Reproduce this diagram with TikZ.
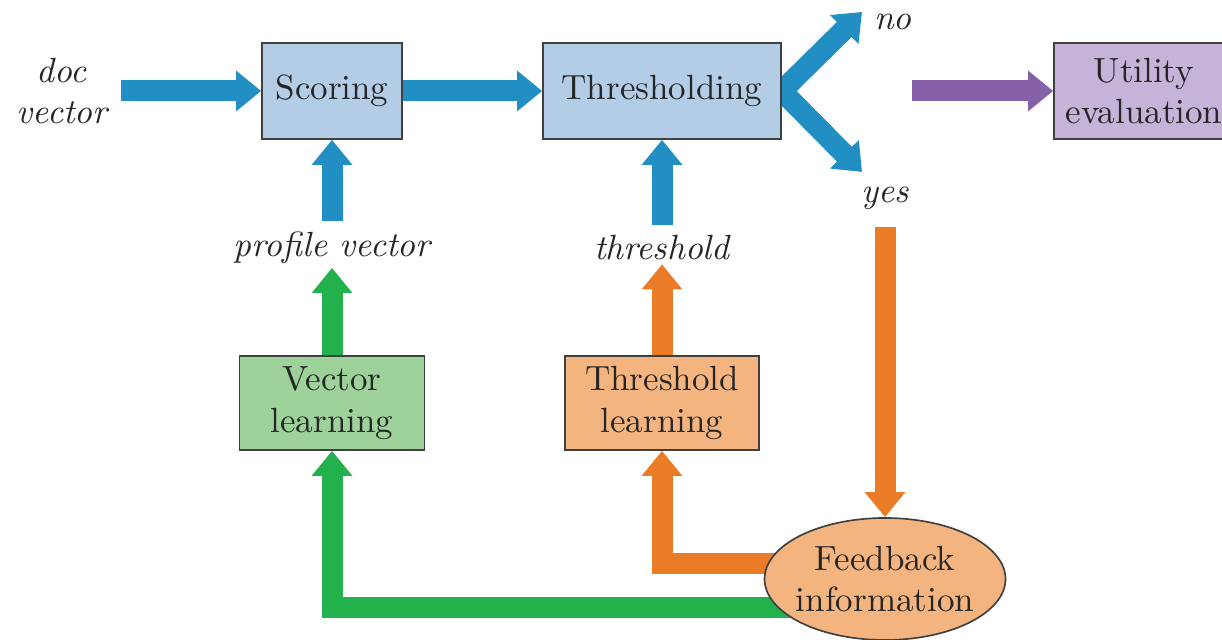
\documentclass[tikz,border=0pt]{standalone}
\usepackage{xcolor}
\usepackage{tikz}
\usetikzlibrary{positioning}
\usetikzlibrary{arrows.meta,shapes.geometric,backgrounds}

\definecolor{arrblue}{HTML}{218EC4}
\definecolor{boxblue}{HTML}{B4CDE6}
\definecolor{arrpurple}{HTML}{8660A8}
\definecolor{boxpurple}{HTML}{C5B3DA}
\definecolor{arrgreen}{HTML}{22B14C}
\definecolor{boxgreen}{HTML}{9DD39B}
\definecolor{arrorange}{HTML}{EA7B27}
\definecolor{boxorange}{HTML}{F4B47F}

\tikzset{
  fattip/.tip={Triangle[length=7.5pt,width=11.7pt]},
  box/.style={draw=black!75, line width=0.5pt, align=center, text=black!85,
    font=\fontsize{10.5}{12.4}\selectfont, inner sep=0pt},
  lbl/.style={font=\fontsize{10.5}{12.4}\selectfont\itshape, text=black!85,
    align=center, inner sep=1pt},
  fat/.style={line width=6.3pt, -fattip},
}

\begin{document}
\begin{tikzpicture}[x=0.3pt,y=-0.3pt]
	\useasboundingbox (0,0) rectangle (1222,640);

	% top row
	\node[lbl] (dv) at (62,91) {doc\\vector};
	\node[box,fill=boxblue,minimum width=42pt,minimum height=28.8pt] (sc) at (332,91) {Scoring};
	\node[box,fill=boxblue,minimum width=71.4pt,minimum height=28.8pt] (thr) at (662,91) {Thresholding};
	\node[box,fill=boxpurple,minimum width=54pt,minimum height=28.8pt] (ut) at (1144,91) {Utility\\evaluation};
	\node[lbl] (no) at (893,22) {no};
	\node[lbl] (yes) at (885,198) {yes};
	\coordinate (noend) at (862,12);
	\coordinate (yesend) at (862,172);
	\coordinate (ustart) at (912,91);

	% middle row
	\node[lbl] (pv) at (332,248) {profile vector};
	\node[lbl] (th) at (662,248) {threshold};
	\node[box,fill=boxgreen,minimum width=55.5pt,minimum height=28.2pt] (vl) at (332,403) {Vector\\learning};
	\node[box,fill=boxorange,minimum width=58.2pt,minimum height=28.2pt] (tl) at (662,403) {Threshold\\learning};

	% feedback
	\node[ellipse,draw=black!75,line width=0.5pt,fill=boxorange,text=black!85,align=center,
		font=\fontsize{10.5}{12.3}\selectfont,inner xsep=-8pt,inner ysep=0pt,
		minimum width=72.3pt,minimum height=36.6pt] (fb) at (885,579) {Feedback\\information};

	\begin{scope}[on background layer]
		\draw[fat,draw=arrblue,shorten <=3pt] (dv.east) -- (sc.west);
		\draw[fat,draw=arrblue] (sc.east) -- (thr.west);
		\draw[line width=6.3pt,draw=arrblue,fattip-fattip] (noend) -- (thr.east) -- (yesend);
		\draw[fat,draw=arrpurple] (ustart) -- (ut.west);
		\draw[fat,draw=arrblue,shorten <=2pt] (pv.north) -- (sc.south);
		\draw[fat,draw=arrblue,shorten <=2pt] (th.north) -- (thr.south);
		\draw[fat,draw=arrgreen] (vl.north) -- (pv.south);
		\draw[fat,draw=arrorange] (tl.north) -- (th.south);
		\draw[fat,draw=arrorange,shorten <=4pt] (yes.south) -- (fb.north);
		\draw[fat,draw=arrorange] ([yshift=4.5pt]fb.center) -| (tl.south);
		\draw[fat,draw=arrgreen] ([yshift=-8.7pt]fb.center) -| (vl.south);
	\end{scope}
\end{tikzpicture}
\end{document}
